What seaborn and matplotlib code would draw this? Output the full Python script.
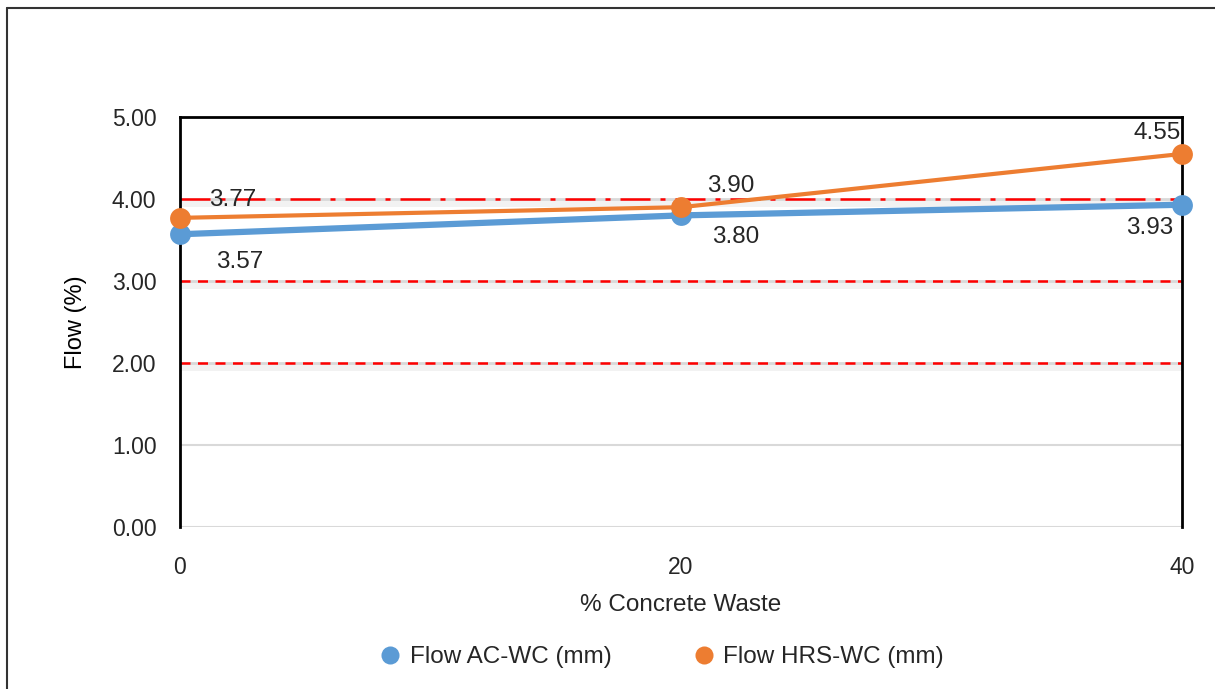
import matplotlib
matplotlib.use("Agg")
import matplotlib.pyplot as plt
import seaborn as sns
import pandas as pd
from matplotlib.lines import Line2D

concrete_waste = [0, 20, 40]
flow_ac = [3.57, 3.80, 3.93]
flow_hrs = [3.77, 3.90, 4.55]
series_names = ["Flow AC-WC (mm)", "Flow HRS-WC (mm)"]
y_ticks = [0, 1, 2, 3, 4, 5]

sns.set_theme(style="white")
plt.rcParams['font.family'] = ['Liberation Sans', 'DejaVu Sans']

df = pd.DataFrame({
    "x": concrete_waste * 2,
    "y": flow_ac + flow_hrs,
    "series": [series_names[0]] * 3 + [series_names[1]] * 3,
})

blue = "#5B9BD5"
orange = "#ED7D31"
txt = "#262626"

fig = plt.figure(figsize=(12.15, 6.89), dpi=100)
ax = fig.add_axes([180/1215, 1-527/689, (1182-180)/1215, (527-117)/689])

# gridlines
for v in [0, 1]:
    ax.axhline(v, color="#d9d9d9", lw=1.5, zorder=1)
for v in [2, 3]:
    ax.axhline(v - 0.05, color="#000000", alpha=0.05, lw=5, zorder=0.5)
    ax.axhline(v, color="#d9d9d9", lw=2, zorder=1)
    ax.axhline(v, color="red", lw=1.8, ls=(0, (4, 3)), zorder=1.1)
ax.axhline(4 - 0.05, color="#000000", alpha=0.05, lw=5, zorder=0.5)
ax.axhline(4, color="#d9d9d9", lw=2, zorder=1)
ax.axhline(4, color="red", lw=1.8, ls=(0, (12, 4, 2, 4)), zorder=1.1)

sns.lineplot(data=df[df.series == series_names[0]], x="x", y="y", ax=ax,
             color=blue, lw=4.5, marker="o", markersize=15,
             markeredgewidth=0, zorder=3, label=series_names[0], legend=False, clip_on=False)
sns.lineplot(data=df[df.series == series_names[1]], x="x", y="y", ax=ax,
             color=orange, lw=3, marker="o", markersize=15,
             markeredgewidth=0, zorder=4, label=series_names[1], legend=False, clip_on=False)

# data labels (offsets in data units)
fs = 17.5
offs_ac = [(2.4, -0.34), (2.2, -0.26), (-1.3, -0.28)]
offs_hrs = [(2.1, 0.22), (2.0, 0.26), (-1.0, 0.25)]
for x, y, (dx, dy) in zip(concrete_waste, flow_ac, offs_ac):
    ax.text(x + dx, y + dy, f"{y:.2f}", fontsize=fs, color=txt, ha="center", va="center", zorder=5)
for x, y, (dx, dy) in zip(concrete_waste, flow_hrs, offs_hrs):
    ax.text(x + dx, y + dy, f"{y:.2f}", fontsize=fs, color=txt, ha="center", va="center", zorder=5)

ax.set_xlim(0, 40)
ax.set_ylim(0, 5)
ax.set_xticks(concrete_waste)
ax.set_xticklabels([str(v) for v in concrete_waste])
ax.set_yticks(y_ticks)
ax.set_yticklabels([f"{v:.2f}" for v in y_ticks])
ax.tick_params(axis="both", labelsize=16.5, colors=txt, length=0)
ax.tick_params(axis="x", pad=21)
ax.tick_params(axis="y", pad=17)
ax.set_xlabel("% Concrete Waste", fontsize=17.5, color=txt, labelpad=11)
ax.set_ylabel("Flow (%)", fontsize=17, color="black", labelpad=18)

for s in ["left", "right", "top"]:
    ax.spines[s].set_visible(True)
    ax.spines[s].set_color("black")
    ax.spines[s].set_linewidth(2)
ax.spines["bottom"].set_visible(False)

handles = [Line2D([0], [0], marker="o", color="none", markerfacecolor=c, markeredgewidth=0, markersize=13)
           for c in [blue, orange]]
fig.legend(handles, series_names, loc="center", bbox_to_anchor=(655/1215, 1-657/689), ncol=2,
           frameon=False, fontsize=17.5, handletextpad=-0.2, columnspacing=2.8)

# outer border (left and top)
fig.add_artist(Line2D([7/1215, 7/1215], [0, 1-8/689], color="#333333", lw=1.5, transform=fig.transFigure))
fig.add_artist(Line2D([7/1215, 1], [1-8/689, 1-8/689], color="#333333", lw=1.5, transform=fig.transFigure))

fig.savefig("out.png", dpi=100)
